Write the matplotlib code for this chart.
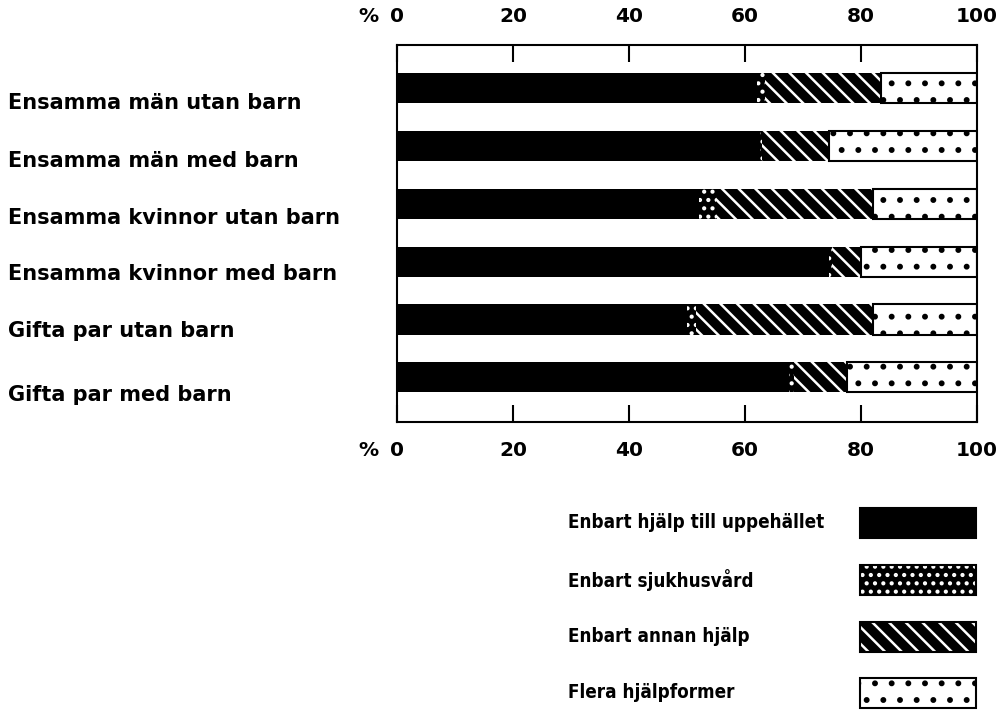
import matplotlib
matplotlib.use("Agg")
import matplotlib.pyplot as plt
from matplotlib.patches import Rectangle

# grupper, uppifrån och ner
groups = [
    "Ensamma män utan barn",
    "Ensamma män med barn",
    "Ensamma kvinnor utan barn",
    "Ensamma kvinnor med barn",
    "Gifta par utan barn",
    "Gifta par med barn",
]

# andelar i procent
uppehalle = [62.0, 62.5, 52.0, 74.5, 50.0, 67.5]
sjukhus = [1.5, 0.5, 3.0, 0.5, 1.5, 1.0]
annan = [20.0, 11.5, 27.0, 5.0, 30.5, 9.0]
flera = [16.5, 25.5, 18.0, 20.0, 18.0, 22.5]

legend_labels = [
    "Enbart hjälp till uppehället",
    "Enbart sjukhusvård",
    "Enbart annan hjälp",
    "Flera hjälpformer",
]
ticks = [0, 20, 40, 60, 80, 100]

plt.rcParams["font.family"] = ["DejaVu Sans"]
plt.rcParams["font.weight"] = "bold"
plt.rcParams["hatch.linewidth"] = 1.8

W, H = 1000, 715
fig = plt.figure(figsize=(W / 100, H / 100), dpi=100)
# ramen: x 397-977, y 45-422 (pixlar)
ax = fig.add_axes([397 / W, 1 - 422 / H, 580 / W, (422 - 45) / H])

y = list(range(len(groups)))
h = 0.52

styles = [
    dict(color="black", linewidth=0),
    dict(facecolor="black", edgecolor="white", hatch="..", linewidth=0),
    dict(facecolor="black", edgecolor="white", hatch="\\\\", linewidth=0),
    dict(facecolor="white", edgecolor="black", hatch=".", linewidth=1.5),
]

left = [0.0] * len(groups)
for vals, st in zip([uppehalle, sjukhus, annan, flera], styles):
    ax.barh(y, vals, height=h, left=left, **st)
    left = [a + b for a, b in zip(left, vals)]

ax.set_xlim(0, 100)
ax.set_ylim(5.77, -0.74)
ax.set_yticks([])
ax.set_xticks(ticks)
ax.set_xticklabels([str(t) for t in ticks], fontsize=14.5)
ax.tick_params(axis="x", top=True, labeltop=True, bottom=True, labelbottom=True,
               direction="in", length=12, width=1.5, pad=14)
for s in ax.spines.values():
    s.set_linewidth(1.5)

for py in (17, 451):
    fig.text(368 / W, 1 - py / H, "%", ha="center", va="center", fontsize=14.5)

# gruppnamn till vänster
label_y = [103, 161, 218, 274, 331, 395]
for name, py in zip(groups, label_y):
    fig.text(8 / W, 1 - py / H, name, ha="left", va="center", fontsize=15)

# teckenförklaring
leg_y = [523, 580, 637, 693]
for lab, st, py in zip(legend_labels, styles, leg_y):
    fig.text(568 / W, 1 - py / H, lab, ha="left", va="center", fontsize=13.5,
             fontstretch="condensed")
    box = (860 / W, 1 - (py + 15) / H)
    fig.add_artist(Rectangle(box, 116 / W, 30 / H, transform=fig.transFigure, **st))
    if st.get("linewidth", 1) == 0:
        fig.add_artist(Rectangle(box, 116 / W, 30 / H, transform=fig.transFigure,
                                 fill=False, edgecolor="black", linewidth=1.5))

fig.savefig("out.png", dpi=100)
